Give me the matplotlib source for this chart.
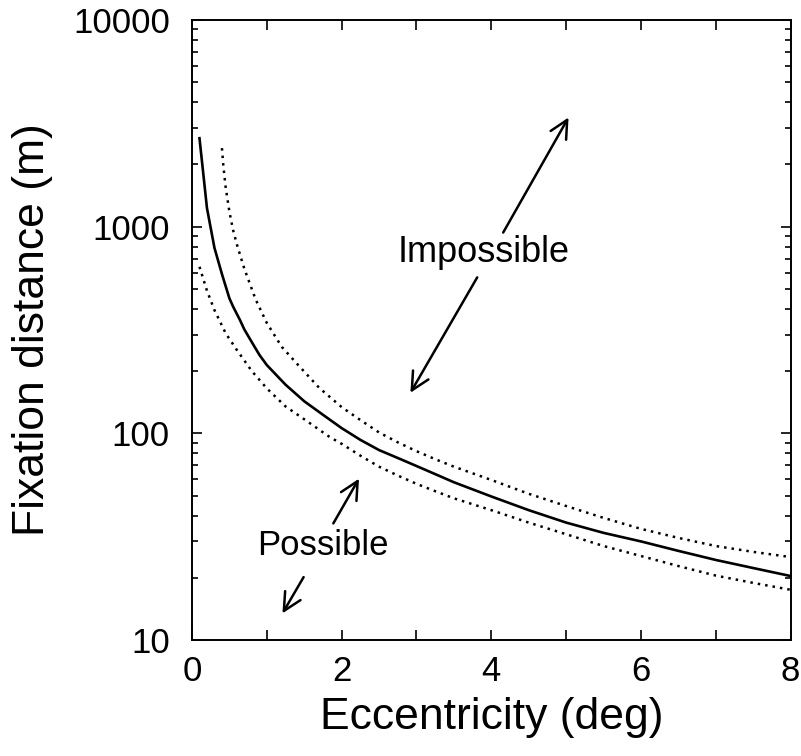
import numpy as np
import matplotlib
matplotlib.use("Agg")
import matplotlib.pyplot as plt

plt.rcParams['font.family'] = ['Liberation Sans', 'DejaVu Sans']

# solid curve: fixation distance vs eccentricity
ecc_mid = [0.1, 0.2, 0.3, 0.4, 0.5, 0.55, 0.64, 0.7, 0.8, 0.9, 1.0, 1.25,
           1.5, 1.75, 2.0, 2.25, 2.5, 2.75, 3.0, 3.25, 3.5, 4.0, 4.5, 5.0,
           5.5, 6.0, 6.5, 7.0, 7.5, 8.0]
dist_mid = [2680, 1230, 790, 590, 450, 410, 354, 318, 276, 240, 214, 172,
            143, 123, 106, 93, 83, 76, 69.5, 63.5, 58, 49.5, 42.5, 37,
            33, 30, 27, 24.4, 22.3, 20.4]

# upper dotted bound
ecc_hi = [0.4, 0.42, 0.45, 0.5, 0.55, 0.6, 0.7, 0.85, 1.0, 1.2, 1.44, 1.7,
          2.0, 2.25, 2.5, 2.75, 3.0, 3.25, 3.5, 4.0, 4.5, 5.0, 5.5, 6.0,
          6.5, 7.0, 7.5, 8.0]
dist_hi = [2400, 1950, 1550, 1180, 960, 820, 625, 445, 342, 262, 210, 166,
           134, 116, 101, 90.5, 82, 75, 69, 59.5, 51, 44.5, 39, 34.5,
           31.2, 28.5, 26.7, 25.2]

# lower dotted bound
ecc_lo = [0.1, 0.2, 0.3, 0.45, 0.6, 0.8, 1.0, 1.25, 1.5, 1.84, 2.0, 2.25,
          2.5, 2.75, 3.0, 3.25, 3.5, 4.0, 4.5, 5.0, 5.5, 6.0, 6.5, 7.0,
          7.5, 8.0]
dist_lo = [640, 490, 395, 305, 253, 200, 165, 135, 117, 96, 89, 78,
           69, 62.5, 57, 52.5, 48.5, 42.5, 37, 32.5, 28.5, 25.5, 22.8, 20.5,
           18.9, 17.5]

fig = plt.figure(figsize=(8.01, 7.56), dpi=100)
ax = fig.add_axes([0.2397, 0.1534, 0.7474, 0.8201])

ax.plot(ecc_mid, dist_mid, color='black', lw=1.9)
ax.plot(ecc_hi, dist_hi, color='black', lw=1.8, linestyle=(0, (1, 2)))
ax.plot(ecc_lo, dist_lo, color='black', lw=1.8, linestyle=(0, (1, 2)))

ax.set_yscale('log')
ax.set_xlim(0, 8)
ax.set_ylim(10, 10000)
ax.set_xticks(range(9))
ax.set_xticklabels(['0', '', '2', '', '4', '', '6', '', '8'])
ax.set_yticks([10, 100, 1000, 10000])
ax.set_yticklabels(['10', '100', '1000', '10000'])

ax.tick_params(which='both', direction='in', top=True, right=True, width=1.2)
ax.tick_params(which='major', length=7, labelsize=25)
ax.tick_params(which='minor', length=4.5)
ax.tick_params(axis='x', pad=11)
ax.tick_params(axis='y', pad=16)
for s in ax.spines.values():
    s.set_linewidth(1.4)

ax.set_xlabel('Eccentricity (deg)', fontsize=32, labelpad=6)
ax.set_ylabel('Fixation distance (m)', fontsize=32, labelpad=14)

arrow = dict(arrowstyle='->', lw=1.8, color='black', mutation_scale=32)
ax.text(3.9, 750, 'Impossible', fontsize=26, ha='center', va='center')
ax.annotate('', xy=(5.05, 3470), xytext=(4.14, 912), arrowprops=arrow)
ax.annotate('', xy=(2.90, 153), xytext=(3.83, 584), arrowprops=arrow)

ax.text(1.75, 28.6, 'Possible', fontsize=25, ha='center', va='center')
ax.annotate('', xy=(2.25, 62), xytext=(1.87, 35.7), arrowprops=arrow)
ax.annotate('', xy=(1.19, 13.1), xytext=(1.51, 20.7), arrowprops=arrow)

fig.savefig('out.png', dpi=100)
